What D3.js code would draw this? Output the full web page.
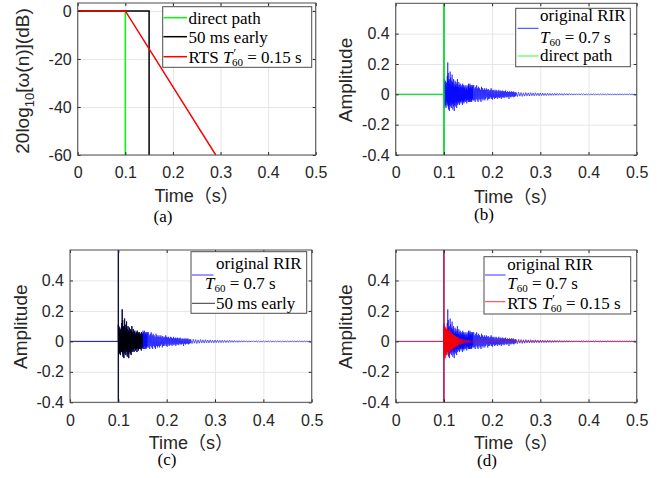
<!DOCTYPE html>
<html>
<head>
<script src="https://cdn.jsdelivr.net/npm/d3@7"></script>
<style>
	body { margin: 0; background: #fff; }
	svg { display: block; }
	.grid line { stroke: #e6e6e6; stroke-width: 1px; }
	.tk text { font-family: "Liberation Sans", Arial, sans-serif; font-size: 16px; fill: #262626; }
	.tk line { stroke: #262626; }
	.lab { font-family: "Liberation Sans", Arial, "Noto Sans CJK SC", sans-serif; fill: #262626; }
	.leg { font-family: "Liberation Serif", "Times New Roman", serif; font-size: 17px; fill: #000; }
	.cap { font-family: "Liberation Serif", "Times New Roman", serif; font-size: 17px; fill: #000; }
	.frame { fill: none; stroke: #4d4d4d; stroke-width: 1px; }
</style>
</head>
<body>
<script>

var width = 670,
	height = 478;

var xTicks = [0, 0.1, 0.2, 0.3, 0.4, 0.5];
var dbTicks = [-60, -40, -20, 0];
var ampTicks = [-0.4, -0.2, 0, 0.2, 0.4];

// (a) windows in dB
var directT = [0, 0.1, 0.1];
var directDb = [0, 0, -100];
var earlyT = [0, 0.15, 0.15];
var earlyDb = [0, 0, -100];
var rtsWinT = [0, 0.1, 0.29];
var rtsWinDb = [0, 0, -60];

// direct impulse (clipped by the axes)
var impulseT = [0, 0.1, 0.1, 0.1];
var impulseV = [0, 0, 0.9, -0.8];

// original RIR, upper / lower peaks
var rirT = [0.100,0.101,0.102,0.103,0.104,0.105,0.106,0.107,0.108,0.109,
	0.110,0.111,0.112,0.113,0.114,0.115,0.116,0.117,0.118,0.119,
	0.120,0.121,0.122,0.123,0.124,0.125,0.126,0.127,0.128,0.129,
	0.130,0.131,0.132,0.133,0.134,0.135,0.136,0.137,0.138,0.139,
	0.140,0.141,0.142,0.143,0.144,0.145,0.146,0.147,0.148,0.149,
	0.150,0.151,0.152,0.153,0.154,0.155,0.156,0.157,0.158,0.159,0.160,
	0.162,0.164,0.166,0.168,0.170,0.172,0.174,0.176,0.178,0.180,
	0.182,0.184,0.186,0.188,0.190,0.192,0.194,0.196,0.198,0.200,
	0.202,0.204,0.206,0.208,0.210,0.212,0.214,0.216,0.218,0.220,
	0.222,0.224,0.226,0.228,0.230,0.232,0.234,0.236,0.238,0.240,
	0.242,0.244,0.246,0.248,0.250,
	0.255,0.260,0.265,0.270,0.275,0.280,0.285,0.290,0.295,0.300,
	0.305,0.310,0.315,0.320,0.325,0.330,0.335,0.340,0.345,0.350,
	0.355,0.360,0.365,0.370,0.375,0.380,0.385,0.390,0.395,0.400,
	0.405,0.410,0.415,0.420,0.425,0.430,0.435,0.440,0.445,0.450,
	0.455,0.460,0.465,0.470,0.475,0.480,0.485,0.490,0.495];
var rirHi = [0.11,0.10,0.06,0.09,0.07,0.08,0.05,0.12,0.21,0.14,
	0.09,0.10,0.07,0.15,0.11,0.06,0.09,0.13,0.08,0.06,
	0.10,0.07,0.05,0.09,0.06,0.08,0.05,0.07,0.10,0.06,
	0.05,0.08,0.04,0.06,0.07,0.05,0.04,0.06,0.05,0.07,
	0.04,0.06,0.05,0.04,0.06,0.03,0.05,0.04,0.06,0.03,
	0.05,0.07,0.06,0.04,0.07,0.05,0.06,0.04,0.06,0.05,0.06,
	0.06,0.04,0.05,0.06,0.04,0.05,0.04,0.03,0.05,0.04,
	0.03,0.04,0.03,0.04,0.03,0.035,0.025,0.03,0.04,0.03,
	0.025,0.03,0.02,0.03,0.025,0.02,0.03,0.02,0.025,0.02,
	0.025,0.02,0.02,0.025,0.015,0.02,0.015,0.02,0.015,0.02,
	0.015,0.02,0.012,0.015,0.012,
	0.014,0.012,0.010,0.012,0.010,0.011,0.009,0.010,0.008,0.009,
	0.008,0.007,0.008,0.007,0.006,0.007,0.006,0.006,0.005,0.005,
	0.005,0.005,0.004,0.004,0.004,0.004,0.004,0.003,0.003,0.003,
	0.003,0.003,0.003,0.003,0.003,0.003,0.002,0.003,0.002,0.002,
	0.002,0.002,0.002,0.002,0.002,0.002,0.002,0.002,0.002];
var rirLo = [-0.09,-0.06,-0.08,-0.07,-0.09,-0.05,-0.07,-0.06,-0.08,-0.10,
	-0.07,-0.11,-0.06,-0.08,-0.05,-0.09,-0.07,-0.06,-0.10,-0.06,
	-0.08,-0.11,-0.07,-0.05,-0.08,-0.06,-0.09,-0.05,-0.07,-0.04,
	-0.06,-0.05,-0.07,-0.04,-0.05,-0.06,-0.04,-0.05,-0.07,-0.04,
	-0.05,-0.06,-0.04,-0.05,-0.03,-0.05,-0.04,-0.06,-0.03,-0.04,
	-0.05,-0.04,-0.05,-0.05,-0.03,-0.05,-0.04,-0.05,-0.04,-0.03,-0.04,
	-0.04,-0.05,-0.03,-0.04,-0.05,-0.03,-0.04,-0.05,-0.03,-0.04,
	-0.03,-0.04,-0.03,-0.02,-0.04,-0.03,-0.03,-0.02,-0.03,-0.035,
	-0.02,-0.03,-0.025,-0.02,-0.03,-0.02,-0.025,-0.02,-0.03,-0.02,
	-0.02,-0.025,-0.015,-0.02,-0.02,-0.015,-0.03,-0.015,-0.02,-0.015,
	-0.015,-0.02,-0.015,-0.012,-0.015,
	-0.012,-0.014,-0.012,-0.010,-0.011,-0.009,-0.010,-0.008,-0.010,-0.008,
	-0.008,-0.008,-0.007,-0.007,-0.007,-0.006,-0.006,-0.005,-0.006,-0.005,
	-0.005,-0.004,-0.005,-0.004,-0.004,-0.004,-0.003,-0.004,-0.003,-0.003,
	-0.003,-0.003,-0.003,-0.003,-0.003,-0.002,-0.003,-0.002,-0.002,-0.002,
	-0.002,-0.002,-0.002,-0.002,-0.002,-0.002,-0.002,-0.002,-0.002];

// RTS-shaped RIR, upper / lower peaks
var rtsT = [0.100,0.101,0.102,0.103,0.104,0.105,0.106,0.107,0.108,0.109,
	0.110,0.111,0.112,0.113,0.114,0.115,0.116,0.117,0.118,0.119,
	0.120,0.121,0.122,0.123,0.124,0.125,0.126,0.127,0.128,0.129,
	0.130,0.132,0.134,0.136,0.138,0.140,0.143,0.146,0.149,0.152,
	0.155,0.160,0.165,0.170,0.180,0.190];
var rtsHi = [0.12,0.09,0.10,0.07,0.09,0.06,0.08,0.10,0.07,0.08,
	0.06,0.07,0.05,0.07,0.05,0.04,0.06,0.05,0.04,0.05,
	0.04,0.035,0.04,0.03,0.035,0.03,0.025,0.03,0.025,0.02,
	0.025,0.02,0.018,0.015,0.016,0.012,0.012,0.010,0.008,0.008,
	0.006,0.005,0.004,0.003,0.002,0.001];
var rtsLo = [-0.12,-0.10,-0.08,-0.11,-0.07,-0.09,-0.06,-0.07,-0.09,-0.06,
	-0.08,-0.07,-0.06,-0.05,-0.06,-0.05,-0.04,-0.05,-0.06,-0.04,
	-0.045,-0.04,-0.03,-0.04,-0.03,-0.035,-0.03,-0.025,-0.03,-0.025,
	-0.02,-0.02,-0.02,-0.018,-0.014,-0.015,-0.01,-0.011,-0.009,-0.007,
	-0.007,-0.005,-0.004,-0.003,-0.002,-0.001];

var svg = d3.select("body").append("svg")
	.attr("width", width)
	.attr("height", height);

var clipN = 0;

function makeAxes(box, yDomain, yTicks) {
	var x = d3.scaleLinear().domain([0, 0.5]).range([box.l, box.r]);
	var y = d3.scaleLinear().domain(yDomain).range([box.b, box.t]);
	var g = svg.append("g");

	g.append("g").attr("class", "grid")
		.attr("transform", "translate(0," + box.b + ")")
		.call(d3.axisBottom(x).tickValues(xTicks).tickSize(-(box.b - box.t)).tickFormat(""))
		.call(function(s) { s.select(".domain").remove(); });
	g.append("g").attr("class", "grid")
		.attr("transform", "translate(" + box.l + ",0)")
		.call(d3.axisLeft(y).tickValues(yTicks).tickSize(-(box.r - box.l)).tickFormat(""))
		.call(function(s) { s.select(".domain").remove(); });

	var id = "clip" + (clipN++);
	svg.append("clipPath").attr("id", id).append("rect")
		.attr("x", box.l).attr("y", box.t)
		.attr("width", box.r - box.l).attr("height", box.b - box.t);
	var plot = g.append("g").attr("clip-path", "url(#" + id + ")");
	return { g: g, x: x, y: y, plot: plot, box: box, yTicks: yTicks };
}

function finishAxes(p) {
	var box = p.box;
	var fmt = function(d) { return String(d); };
	var ax = [
		p.g.append("g").attr("transform", "translate(0," + box.b + ")")
			.call(d3.axisBottom(p.x).tickValues(xTicks).tickSize(-3).tickPadding(12).tickFormat(fmt)),
		p.g.append("g").attr("transform", "translate(" + box.l + ",0)")
			.call(d3.axisLeft(p.y).tickValues(p.yTicks).tickSize(-3).tickPadding(6).tickFormat(fmt)),
		p.g.append("g").attr("transform", "translate(0," + box.t + ")")
			.call(d3.axisTop(p.x).tickValues(xTicks).tickSize(-3).tickFormat("")),
		p.g.append("g").attr("transform", "translate(" + box.r + ",0)")
			.call(d3.axisRight(p.y).tickValues(p.yTicks).tickSize(-3).tickFormat(""))
	];
	ax.forEach(function(a) {
		a.attr("class", "tk").attr("font-family", null).attr("font-size", null);
		a.select(".domain").remove();
	});
	p.g.append("rect").attr("class", "frame")
		.attr("x", box.l).attr("y", box.t)
		.attr("width", box.r - box.l).attr("height", box.b - box.t);
}

function pts(T, V) {
	return T.map(function(t, i) { return [t, V[i]]; });
}

// zig-zag between upper and lower peaks
function peaks(T, hi, lo) {
	var out = [];
	T.forEach(function(t, i) {
		var next = i < T.length - 1 ? T[i + 1] : t + 0.005;
		out.push([t, hi[i]]);
		out.push([(t + next) / 2, lo[i]]);
	});
	return out;
}

function drawLine(p, data, color, w) {
	var line = d3.line()
		.x(function(d) { return p.x(d[0]); })
		.y(function(d) { return p.y(d[1]); });
	p.plot.append("path")
		.attr("d", line(data))
		.attr("fill", "none")
		.attr("stroke", color)
		.attr("stroke-width", w)
		.attr("stroke-linejoin", "miter");
}

function xLabel(p, baseline) {
	svg.append("text").attr("class", "lab")
		.attr("x", (p.box.l + p.box.r) / 2).attr("y", baseline)
		.attr("text-anchor", "middle").attr("font-size", 18)
		.text("Time（s）");
}

function yLabel(x, cy, build) {
	var t = svg.append("text").attr("class", "lab")
		.attr("transform", "translate(" + x + "," + cy + ") rotate(-90)")
		.attr("text-anchor", "middle").attr("font-size", 19);
	build(t);
}

function caption(x, y, s) {
	svg.append("text").attr("class", "cap")
		.attr("x", x).attr("y", y).attr("text-anchor", "middle").text(s);
}

function legendBox(x0, y0, x1, y1) {
	svg.append("rect")
		.attr("x", x0).attr("y", y0).attr("width", x1 - x0).attr("height", y1 - y0)
		.attr("fill", "#fff").attr("stroke", "#4d4d4d").attr("stroke-width", 1);
}

function legendLine(x0, x1, y, color, w) {
	svg.append("line").attr("x1", x0).attr("x2", x1).attr("y1", y).attr("y2", y)
		.attr("stroke", color).attr("stroke-width", w);
}

function legendText(x, cy) {
	return svg.append("text").attr("class", "leg").attr("x", x).attr("y", cy + 6);
}

function t60(t) {
	t.append("tspan").attr("font-style", "italic").text("T");
	t.append("tspan").attr("font-size", 11).attr("dy", 3).text("60");
	t.append("tspan").attr("dy", -3).text(" = 0.7 s");
}

function rtsLabel(t) {
	t.append("tspan").text("RTS ");
	t.append("tspan").attr("font-style", "italic").text("T");
	t.append("tspan").attr("font-size", 12).attr("dx", 1).attr("dy", -6).text("′");
	t.append("tspan").attr("font-size", 11).attr("dx", -4).attr("dy", 9).text("60");
	t.append("tspan").attr("dy", -3).text(" = 0.15 s");
}

// ---------- (a)
var A = makeAxes({ l: 77.7, r: 315.7, t: 3, b: 155 }, [-60, 3.3], dbTicks);
drawLine(A, pts(directT, directDb), "#00ff00", 1.5);
drawLine(A, pts(earlyT, earlyDb), "#000", 1.5);
drawLine(A, pts(rtsWinT, rtsWinDb), "#ff0000", 1.5);
finishAxes(A);
xLabel(A, 202);
yLabel(29, 81, function(t) {
	t.append("tspan").text("20log");
	t.append("tspan").attr("font-size", 13).attr("dy", 5).text("10");
	t.append("tspan").attr("dy", -5).text("[ω(n)](dB)");
});
legendBox(162.7, 6.7, 311.7, 67.3);
legendLine(163.5, 187, 17.7, "#00ff00", 1.5);
legendLine(163.5, 187, 36.7, "#000", 1.5);
legendLine(163.5, 187, 56.7, "#ff0000", 1.5);
legendText(188.5, 17.7).text("direct path");
legendText(188.5, 36.7).text("50 ms early");
rtsLabel(legendText(188.5, 56.7));
caption(163, 222, "(a)");

var rirFull = pts(impulseT, impulseV).concat(peaks(rirT, rirHi, rirLo), [[0.5, 0]]);

// ---------- (b)
var B = makeAxes({ l: 395.7, r: 636.7, t: 3.3, b: 155 }, [-0.4, 0.6], ampTicks);
drawLine(B, rirFull, "#0000ff", 0.6);
drawLine(B, pts(impulseT, impulseV).concat([[0.1, 0]]), "#00ff00", 1);
finishAxes(B);
xLabel(B, 203);
yLabel(352.4, 80, function(t) { t.text("Amplitude"); });
legendBox(515.7, 8.3, 630.3, 66.7);
legendLine(517.5, 538.5, 28.3, "#0000ff", 0.8);
legendLine(517.5, 538.5, 56, "#00ff00", 0.8);
legendText(540, 15).text("original RIR");
t60(legendText(540, 36.7));
legendText(540, 55).text("direct path");
caption(484, 220, "(b)");

// ---------- (c)
var C = makeAxes({ l: 70, r: 311.7, t: 250, b: 402.3 }, [-0.4, 0.6], ampTicks);
drawLine(C, rirFull, "#0000ff", 0.6);
var earlyPeaks = peaks(rirT, rirHi, rirLo).filter(function(d) { return d[0] <= 0.15; });
drawLine(C, pts(impulseT, impulseV).concat(earlyPeaks, [[0.15, 0]]), "#000", 0.6);
finishAxes(C);
xLabel(C, 449);
yLabel(27.4, 326.7, function(t) { t.text("Amplitude"); });
legendBox(191, 251.7, 306.7, 313.3);
legendLine(192, 213.5, 275, "#0000ff", 0.8);
legendLine(192, 215, 303.3, "#000", 0.8);
legendText(216, 263.3).text("original RIR");
t60(legendText(205, 283.3));
legendText(216, 302.7).text("50 ms early");
caption(167, 465, "(c)");

// ---------- (d)
var D = makeAxes({ l: 395.7, r: 636.7, t: 250, b: 402.3 }, [-0.4, 0.6], ampTicks);
drawLine(D, rirFull, "#0000ff", 0.6);
drawLine(D, pts(impulseT, impulseV).concat(peaks(rtsT, rtsHi, rtsLo), [[0.2, 0], [0.5, 0]]), "#ff0000", 0.6);
finishAxes(D);
xLabel(D, 449);
yLabel(352.4, 326.7, function(t) { t.text("Amplitude"); });
legendBox(484, 256.7, 630.7, 314);
legendLine(485, 505.5, 275, "#0000ff", 0.8);
legendLine(485, 505.5, 301.7, "#ff0000", 0.8);
legendText(507.3, 264).text("original RIR");
t60(legendText(507.3, 283.3));
rtsLabel(legendText(507.3, 302.7));
caption(487, 466, "(d)");

</script>
</body>
</html>
